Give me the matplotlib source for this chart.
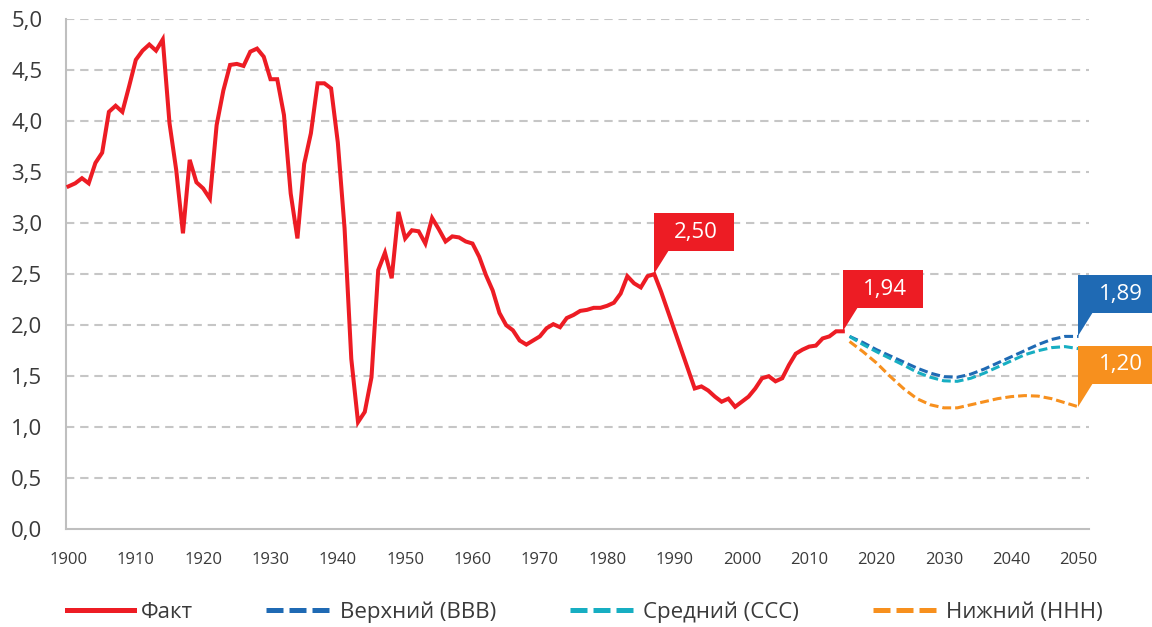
import matplotlib
matplotlib.use('Agg')
import matplotlib.pyplot as plt
import matplotlib.transforms as mtransforms
from matplotlib.patches import Polygon, Rectangle
from matplotlib.lines import Line2D

plt.rcParams['font.family'] = ['Open Sans', 'DejaVu Sans']

# ---------------- data ----------------
fact_years = list(range(1900, 2016))
fact_values = [
    3.36, 3.39, 3.44, 3.39, 3.59, 3.69, 4.09, 4.15, 4.09, 4.34,   # 1900-1909
    4.60, 4.69, 4.75, 4.69, 4.80, 3.98, 3.52, 2.90, 3.62, 3.40,   # 1910-1919
    3.34, 3.24, 3.96, 4.30, 4.55, 4.56, 4.54, 4.68, 4.71, 4.63,   # 1920-1929
    4.41, 4.41, 4.06, 3.29, 2.85, 3.58, 3.88, 4.37, 4.37, 4.32,   # 1930-1939
    3.79, 2.95, 1.67, 1.05, 1.15, 1.49, 2.54, 2.71, 2.46, 3.11,   # 1940-1949
    2.85, 2.93, 2.92, 2.80, 3.05, 2.94, 2.82, 2.87, 2.86, 2.82,   # 1950-1959
    2.80, 2.67, 2.49, 2.34, 2.12, 2.00, 1.95, 1.85, 1.81, 1.85,   # 1960-1969
    1.89, 1.97, 2.01, 1.98, 2.07, 2.10, 2.14, 2.15, 2.17, 2.17,   # 1970-1979
    2.19, 2.22, 2.31, 2.48, 2.41, 2.37, 2.48, 2.50, 2.33, 2.14,   # 1980-1989
    1.95, 1.76, 1.57, 1.38, 1.40, 1.36, 1.30, 1.25, 1.28, 1.20,   # 1990-1999
    1.25, 1.30, 1.38, 1.48, 1.50, 1.45, 1.48, 1.61, 1.72, 1.76,   # 2000-2009
    1.79, 1.80, 1.87, 1.89, 1.94, 1.94,                           # 2010-2015
]

proj_years = list(range(2016, 2051, 2))
upper_values = [1.89, 1.83, 1.76, 1.70, 1.64, 1.58, 1.53, 1.495, 1.49,
                1.52, 1.57, 1.63, 1.69, 1.75, 1.81, 1.86, 1.89, 1.89]
middle_values = [1.89, 1.81, 1.74, 1.675, 1.61, 1.54, 1.49, 1.455, 1.45,
                 1.48, 1.53, 1.59, 1.65, 1.71, 1.75, 1.78, 1.79, 1.77]
lower_values = [1.84, 1.74, 1.63, 1.50, 1.38, 1.28, 1.22, 1.19, 1.19,
                1.22, 1.25, 1.28, 1.30, 1.31, 1.305, 1.28, 1.24, 1.20]

series_labels = ['Факт', 'Верхний (ВВВ)', 'Средний (ССС)', 'Нижний (ННН)']
x_ticks = list(range(1900, 2051, 10))
y_ticks = [0.0, 0.5, 1.0, 1.5, 2.0, 2.5, 3.0, 3.5, 4.0, 4.5, 5.0]

# callouts: (year, value, series colour key)
callouts = [(1987, 2.50, 'fact'), (2015, 1.94, 'fact'),
            (2050, 1.89, 'upper'), (2050, 1.20, 'lower')]

# ---------------- style ----------------
colors = {'fact': '#ED1C24', 'upper': '#1F6AB4', 'middle': '#17AEC2', 'lower': '#F7901E'}
text_color = '#3A3A3A'
grid_color = '#C6C6C6'
spine_color = '#BFBFBF'

fig = plt.figure(figsize=(11.52, 6.27), dpi=100)
ax = fig.add_axes([66 / 1152, 97.7 / 627, 1023 / 1152, 510.3 / 627])

ax.set_xlim(1899.63, 2051.56)
ax.set_ylim(0, 5)

for v in y_ticks[1:]:
    ax.axhline(v, color=grid_color, lw=1.5, dashes=(4, 2.8), zorder=1)

ax.plot(fact_years, fact_values, color=colors['fact'], lw=2.9,
        solid_joinstyle='miter', zorder=3)
dash = (2.9, 1.3)
ax.plot(proj_years, upper_values, color=colors['upper'], lw=2.2, dashes=dash,
        dash_capstyle='butt', zorder=3)
ax.plot(proj_years, middle_values, color=colors['middle'], lw=2.2, dashes=dash,
        dash_capstyle='butt', zorder=3)
ax.plot(proj_years, lower_values, color=colors['lower'], lw=2.2, dashes=dash,
        dash_capstyle='butt', zorder=3)

for s in ['top', 'right']:
    ax.spines[s].set_visible(False)
for s in ['left', 'bottom']:
    ax.spines[s].set_color(spine_color)
    ax.spines[s].set_linewidth(1.5)

ax.set_xticks(x_ticks)
ax.set_xticklabels([str(t) for t in x_ticks])
ax.set_yticks(y_ticks)
ax.set_yticklabels([f'{t:.1f}'.replace('.', ',') for t in y_ticks])
ax.tick_params(axis='x', length=0, pad=16, labelsize=12, labelcolor=text_color)
ax.tick_params(axis='y', length=0, pad=17, labelsize=16, labelcolor=text_color)

# ---------------- callouts ----------------
px = 1 / 100.0
for (cx, cy, key) in callouts:
    trans = fig.dpi_scale_trans + mtransforms.ScaledTranslation(cx, cy, ax.transData)
    col = colors[key]
    tri = Polygon([(0, 0), (0, 24 * px), (15 * px, 24 * px)], closed=True,
                  transform=trans, facecolor=col, edgecolor='none',
                  clip_on=False, zorder=6)
    box = Rectangle((0, 23 * px), 80 * px, 38 * px, transform=trans,
                    facecolor=col, edgecolor='none', clip_on=False, zorder=6)
    ax.add_patch(tri)
    ax.add_patch(box)
    ax.text(42 * px, 42 * px, f'{cy:.2f}'.replace('.', ','), transform=trans,
            ha='center', va='center', color='white', fontsize=16,
            fontweight='medium', zorder=7, clip_on=False)

# ---------------- legend ----------------
handles = [
    Line2D([], [], color=colors['fact'], lw=3.6),
    Line2D([], [], color=colors['upper'], lw=3.6, dashes=(3.4, 1.2)),
    Line2D([], [], color=colors['middle'], lw=3.6, dashes=(3.4, 1.2)),
    Line2D([], [], color=colors['lower'], lw=3.6, dashes=(3.4, 1.2)),
]
leg = fig.legend(handles, series_labels, loc='center left',
                 bbox_to_anchor=(67 / 1152, 15 / 627), ncol=4, frameon=False,
                 fontsize=16, handlelength=3.0, handletextpad=0.32,
                 columnspacing=3.3, borderpad=0, borderaxespad=0)
for t in leg.get_texts():
    t.set_color(text_color)

fig.savefig('out.png', dpi=100)
